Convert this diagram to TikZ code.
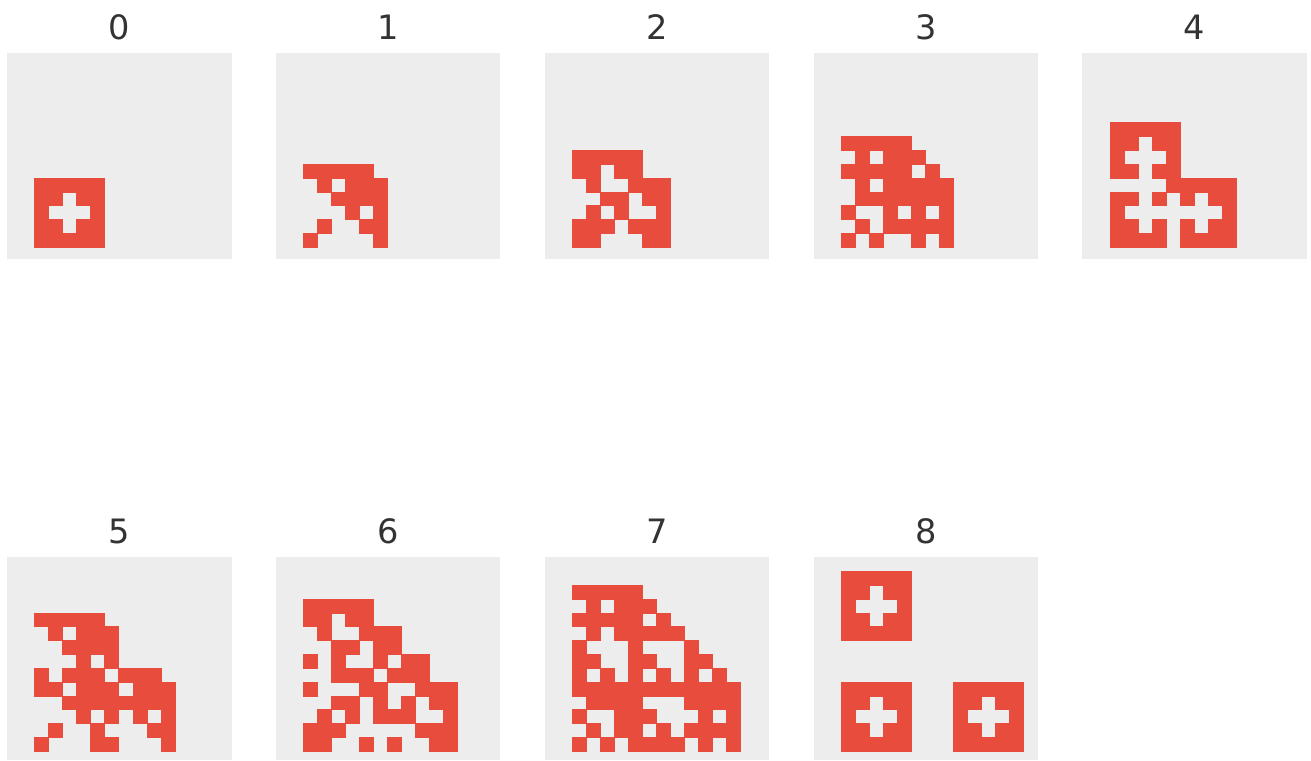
\documentclass[tikz,border=0pt]{standalone}
\usepackage{fontspec}
\setmainfont{DejaVu Sans}
\definecolor{carule}{HTML}{E74C3C}
\definecolor{caback}{HTML}{EDEDED}
\definecolor{catext}{HTML}{333333}
\usetikzlibrary{positioning}
% #1 label node, #2 step, #3 left, #4 top, #5 live cells as row/{columns}
\newcommand{\gen}[5]{%
  \fill[panel] (#3,#4) rectangle ({#3+224.5},{min(#4+206,760)});
  \node[lbl] (#1) at ({#3+112.25},{#4-26}) {#2};
  \begin{scope}[shift={({#3+27.3},{#4+193.7})},x=7.025pt,y=6.915pt]
    \foreach \r/\cs in {#5} \foreach \c in \cs \fill[cell] (\c,\r) rectangle ++(1,1);
  \end{scope}}

\begin{document}
\begin{tikzpicture}[x=0.5pt,y=-0.5pt,
  panel/.style={fill=caback},
  cell/.style={fill=carule,draw=carule,line width=0.15pt},
  lbl/.style={text=catext,font=\fontsize{16.8}{20}\selectfont,inner sep=0pt}]
\useasboundingbox[fill=white] (0,0) rectangle (1311,760);
% top row
\gen{lab0}{0}{7}{53.3}{4/{0,1,2,3,4},3/{0,1,3,4},2/{0,4},1/{0,1,3,4},0/{0,1,2,3,4}}
\gen{lab1}{1}{275.7}{53.3}{5/{0,1,2,3,4},4/{1,3,4,5},3/{2,3,4,5},2/{3,5},1/{1,4,5},0/{0,5}}
\gen{lab2}{2}{544.6}{53.3}{6/{0,1,2,3,4},5/{0,1,3,4},4/{1,4,5,6},3/{2,3,5,6},2/{1,3,6},1/{0,1,2,4,5,6},0/{0,1,5,6}}
\gen{lab3}{3}{813.5}{53.3}{7/{0,1,2,3,4},6/{1,3,4,5},5/{0,1,2,3,4,6},4/{1,3,4,5,6,7},3/{1,2,3,4,5,6,7},2/{0,3,5,7},1/{1,3,4,5,6,7},0/{0,2,5,7}}
\gen{lab4}{4}{1082.4}{53.3}{8/{0,1,2,3,4},7/{0,1,3,4},6/{0,4},5/{0,1,3,4},4/{4,5,6,7,8},3/{0,1,3,5,7,8},2/{0,8},1/{0,1,3,5,7,8},0/{0,1,2,3,5,6,7,8}}
% bottom row
\gen{lab5}{5}{7}{557.3}{9/{0,1,2,3,4},8/{1,3,4,5},7/{2,3,4,5},6/{3,5},5/{0,2,3,4,6,7,8},4/{0,1,3,4,5,7,8,9},3/{2,3,4,5,6,7,8,9},2/{3,5,7,9},1/{1,4,8,9},0/{0,4,5,9}}
\gen{lab6}{6}{275.7}{557.3}{10/{0,1,2,3,4},9/{0,1,3,4},8/{1,4,5,6},7/{2,3,5,6},6/{0,2,5,7,8},5/{2,3,4,6,7,8},4/{0,4,5,8,9,10},3/{2,3,5,7,9,10},2/{1,3,5,6,7,10},1/{0,1,2,8,9,10},0/{0,1,4,6,9,10}}
\gen{lab7}{7}{544.6}{557.3}{11/{0,1,2,3,4},10/{1,3,4,5},9/{0,1,2,3,4,6},8/{1,3,4,5,6,7},7/{0,4,8},6/{0,1,4,5,8,9},5/{0,2,4,6,8,10},4/{0,1,2,3,4,5,6,7,8,9,10,11},3/{1,2,3,4,8,9,10,11},2/{0,3,4,5,9,11},1/{1,3,4,6,8,9,10,11},0/{0,2,4,5,6,7,9,11}}
\gen{lab8}{8}{813.5}{557.3}{12/{0,1,2,3,4},11/{0,1,3,4},10/{0,4},9/{0,1,3,4},8/{0,1,2,3,4},4/{0,1,2,3,4,8,9,10,11,12},3/{0,1,3,4,8,9,11,12},2/{0,4,8,12},1/{0,1,3,4,8,9,11,12},0/{0,1,2,3,4,8,9,10,11,12}}
\end{tikzpicture}
\end{document}
